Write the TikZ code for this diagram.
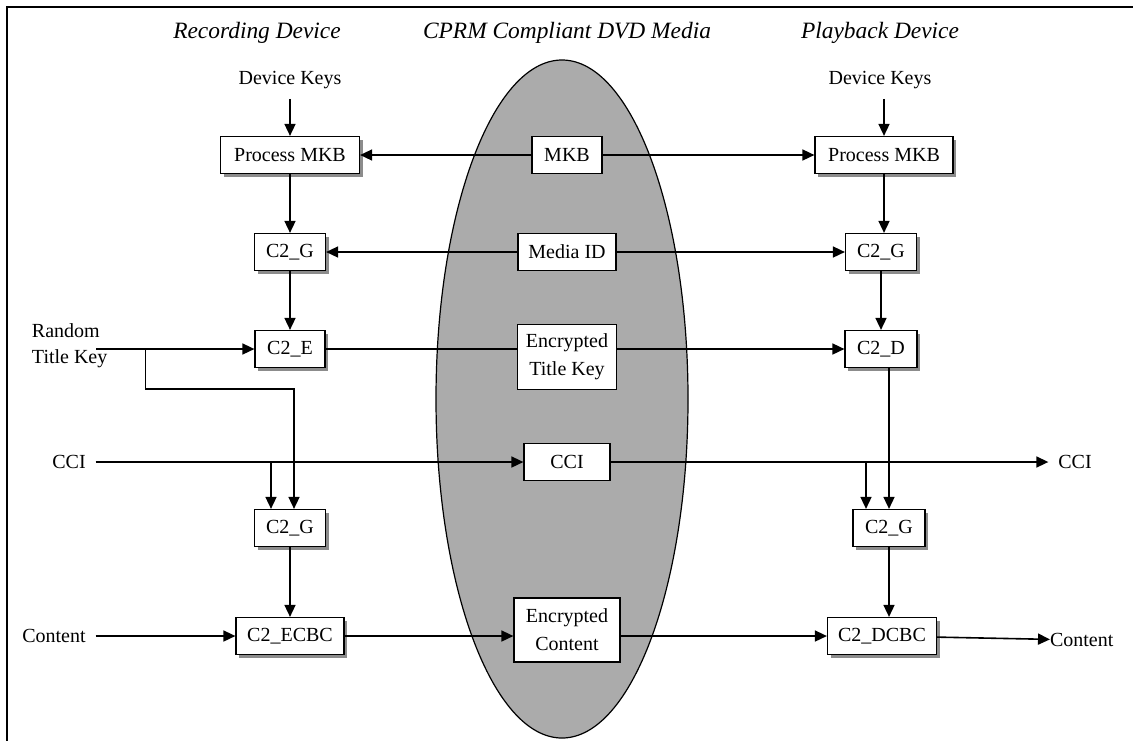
\documentclass[tikz,border=0pt]{standalone}
\usepackage{fontspec}
\setmainfont{Liberation Serif}
\usetikzlibrary{arrows.meta,positioning,shadows}
\definecolor{mediagray}{gray}{0.67}
\tikzset
{
    heading/.style = {font=\fontsize{11.7}{14}\selectfont\itshape},
    io/.style      = {inner sep=0pt, outer sep=5pt},
    process/.style = {rectangle, draw=black, fill=white, line width=0.6pt, minimum height=18.5pt, align=center, inner sep=2pt},
    device/.style  = {process, drop shadow={shadow xshift=1.5pt, shadow yshift=-1.5pt, opacity=1, fill=black!45}},
    arrow/.style   = {line width=0.8pt, -{Triangle[length=6pt, width=5.5pt]}}
}

\begin{document}
\begin{tikzpicture}[x=0.5pt, y=-0.5pt, node distance=48.5pt]
	\useasboundingbox (0,0) rectangle (1133,740);
	% frame and the disc
	\draw [line width=1.2pt] (7,745) -- (7,7) -- (1140,7);
	\filldraw [fill=mediagray, draw=black, line width=0.6pt] (562,399) ellipse [x radius=63pt, y radius=169.5pt];

	\node (hRec) [heading] at (257,33) {Recording Device};
	\node (hMedia) [heading] at (567,33) {CPRM Compliant DVD Media};
	\node (hPlay) [heading] at (880,33) {Playback Device};

	% recorder side
	\node (pmkbL) [device, minimum width=69.5pt] at (290,155) {Process MKB};
	\node (keysL) [io, above of=pmkbL, yshift=-11pt] {Device Keys};
	\node (c2gL) [device, below of=pmkbL, minimum width=35.5pt] {C2\_G};
	\node (c2eL) [device, below of=c2gL, minimum width=35pt] {C2\_E};
	\node (c2gL2) [device, below of=c2eL, yshift=-41pt, minimum width=35.5pt] {C2\_G};
	\node (ecbc) [device, below of=c2gL2, yshift=-5.5pt, minimum width=54pt] {C2\_ECBC};
	\node (rtk) [io, anchor=west, outer sep=0pt, align=left] at (32,346) {Random\\[1pt]Title Key};
	\node (ccil) [io] at (69,462) {CCI};
	\node (contentL) [io] at (54,636) {Content};

	% on the disc
	\node (mkb) [process, minimum width=35pt] at (567,155) {MKB};
	\node (mediaid) [process, below of=mkb, minimum width=49pt] {Media ID};
	\node (etk) [process, below of=mediaid, yshift=-4pt, minimum width=49.5pt, minimum height=32.5pt] {Encrypted\\[2pt]Title Key};
	\node (cci) [process, below of=etk, yshift=-4pt, minimum width=43pt] {CCI};
	\node (enc) [process, below of=cci, yshift=-35.5pt, minimum width=53pt, minimum height=32pt] {Encrypted\\[2pt]Content};

	% player side
	\node (pmkbR) [device, minimum width=69pt] at (884,155) {Process MKB};
	\node (keysR) [io, above of=pmkbR, xshift=-2pt, yshift=-11pt] {Device Keys};
	\node (c2gR) [device, below of=pmkbR, xshift=-1.5pt, minimum width=35.5pt] {C2\_G};
	\node (c2d) [device, below of=c2gR, minimum width=36pt] {C2\_D};
	\node (c2gR2) [device, below of=c2d, xshift=4pt, yshift=-41pt, minimum width=36pt] {C2\_G};
	\node (dcbc) [device, below of=c2gR2, xshift=-3.5pt, yshift=-5.5pt, minimum width=54.5pt] {C2\_DCBC};
	\node (ccir) [io] at (1075,462) {CCI};
	\node (contentR) [io, anchor=west, outer sep=0pt] at (1050,640) {Content};

	\coordinate (tkin) at ([xshift=-5.5pt]rtk.east |- c2eL.west);
	\coordinate (tkfork) at ([xshift=24.5pt]tkin);
	\coordinate (ccifork) at ([xshift=-9.5pt]c2gL2.north |- ccil);
	\coordinate (ccifork2) at ([xshift=-11.5pt]c2gR2.north |- cci);

	\draw [arrow] (keysL) -- (pmkbL);
	\draw [arrow] (pmkbL) -- (c2gL);
	\draw [arrow] (c2gL) -- (c2eL);
	\draw [arrow] (tkin) -- (c2eL);
	\draw [arrow] (tkfork) -- ++(0,40) -| ([xshift=2pt]c2gL2.north);
	\draw [arrow] (ccil) -- (cci);
	\draw [arrow] (ccifork) -- (ccifork |- c2gL2.north);
	\draw [arrow] (c2gL2) -- (ecbc);
	\draw [arrow] (contentL) -- (ecbc);

	\draw [arrow] (mkb) -- (pmkbL);
	\draw [arrow] (mkb) -- (pmkbR);
	\draw [arrow] (mediaid) -- (c2gL);
	\draw [arrow] (mediaid) -- (c2gR);
	\draw [line width=0.8pt] (c2eL) -- (c2eL -| etk.west);
	\draw [arrow] (etk.east |- c2d) -- (c2d);
	\draw [arrow] (cci) -- (ccir);
	\draw [arrow] (ecbc) -- (ecbc -| enc.west);
	\draw [arrow] (enc.east |- dcbc) -- (dcbc);

	\draw [arrow] (keysR.south -| pmkbR) -- (pmkbR);
	\draw [arrow] (pmkbR) -- (pmkbR |- c2gR.north);
	\draw [arrow] (c2gR) -- (c2d);
	\draw [arrow] (c2gR2.north |- c2d.south) -- (c2gR2.north);
	\draw [arrow] (ccifork2) -- (ccifork2 |- c2gR2.north);
	\draw [arrow] (c2gR2) -- (c2gR2 |- dcbc.north);
	\draw [arrow] (dcbc) -- (contentR);
\end{tikzpicture}
\end{document}
